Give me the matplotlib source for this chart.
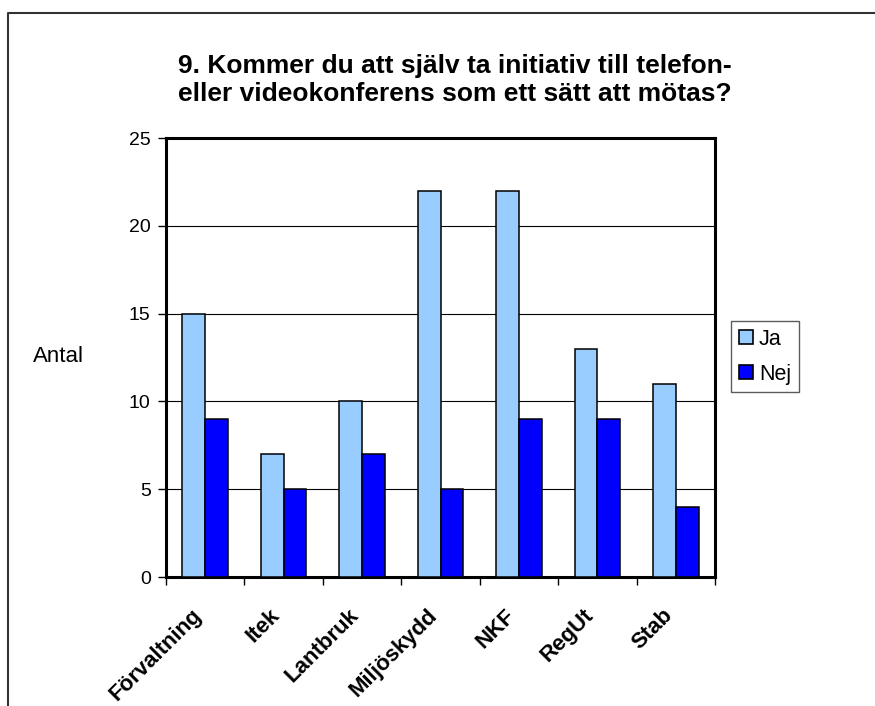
import matplotlib
matplotlib.use("Agg")
import matplotlib.pyplot as plt
import numpy as np
from matplotlib.lines import Line2D
from matplotlib.transforms import ScaledTranslation

categories = ["Förvaltning", "Itek", "Lantbruk", "Miljöskydd", "NKF", "RegUt", "Stab"]
ja = [15, 7, 10, 22, 22, 13, 11]
nej = [9, 5, 7, 5, 9, 9, 4]
yticks = [0, 5, 10, 15, 20, 25]

plt.rcParams['font.family'] = ['Liberation Sans', 'DejaVu Sans']

W, H = 875, 706
fig = plt.figure(figsize=(W / 100, H / 100), dpi=100)

L, R, T, B = 166, 715, 138, 577
ax = fig.add_axes([L / W, 1 - B / H, (R - L) / W, (B - T) / H])

x = np.arange(len(categories))
bw = 0.29
ax.bar(x - bw / 2, ja, bw, color="#99CCFF", edgecolor="black", linewidth=1.1, label="Ja", zorder=3)
ax.bar(x + bw / 2, nej, bw, color="#0000FF", edgecolor="black", linewidth=1.1, label="Nej", zorder=3)

ax.set_xlim(-0.5, len(categories) - 0.5)
ax.set_ylim(0, 25)
ax.set_yticks(yticks)
ax.set_yticklabels([str(v) for v in yticks], fontsize=14)
ax.yaxis.grid(True, color="black", linewidth=0.8, zorder=0)
ax.set_axisbelow(True)

# category boundary ticks
ax.set_xticks(np.arange(len(categories) + 1) - 0.5)
ax.set_xticklabels([])
ax.set_xticks(x, minor=True)
ax.set_xticklabels(categories, minor=True, rotation=45, ha="right", va="top",
                   rotation_mode="anchor", fontsize=16, fontweight="bold")
ax.tick_params(axis="x", which="minor", length=0, pad=20)
ax.tick_params(axis="x", which="major", length=6, width=1, direction="out")
ax.tick_params(axis="y", length=6, width=1, direction="out", pad=5)
for lbl in ax.get_xticklabels(minor=True):
    lbl.set_transform(lbl.get_transform() + ScaledTranslation(-14 / 100, 0, fig.dpi_scale_trans))

for s in ax.spines.values():
    s.set_linewidth(2.2)
    s.set_color("black")

fig.text(58 / W, 1 - 357 / H, "Antal", fontsize=16, ha="center", va="center")

fig.text(455 / W, 1 - 80 / H,
         "9. Kommer du att själv ta initiativ till telefon-\neller videokonferens som ett sätt att mötas?",
         fontsize=19, fontweight="bold", ha="center", va="center", linespacing=1.2)

handles = [
    Line2D([], [], marker="s", linestyle="none", markersize=9.5, markerfacecolor="#99CCFF",
           markeredgecolor="black", markeredgewidth=1.2),
    Line2D([], [], marker="s", linestyle="none", markersize=9.5, markerfacecolor="#0000FF",
           markeredgecolor="black", markeredgewidth=1.2),
]
leg = fig.legend(handles, ["Ja", "Nej"], loc="upper left",
                 bbox_to_anchor=(731 / W, 1 - 321 / H), fontsize=15.5, frameon=True,
                 fancybox=False, edgecolor="#333333", handlelength=0.7, handletextpad=0.25,
                 borderpad=0.35, labelspacing=0.65, borderaxespad=0)
leg.get_frame().set_linewidth(1.0)

# outer chart border (top and left visible)
fig.add_artist(Line2D([8 / W, 8 / W, 1.0], [0.0, 1 - 13 / H, 1 - 13 / H],
                      transform=fig.transFigure, color="#333333", linewidth=1.5))

fig.savefig("out.png", dpi=100)
